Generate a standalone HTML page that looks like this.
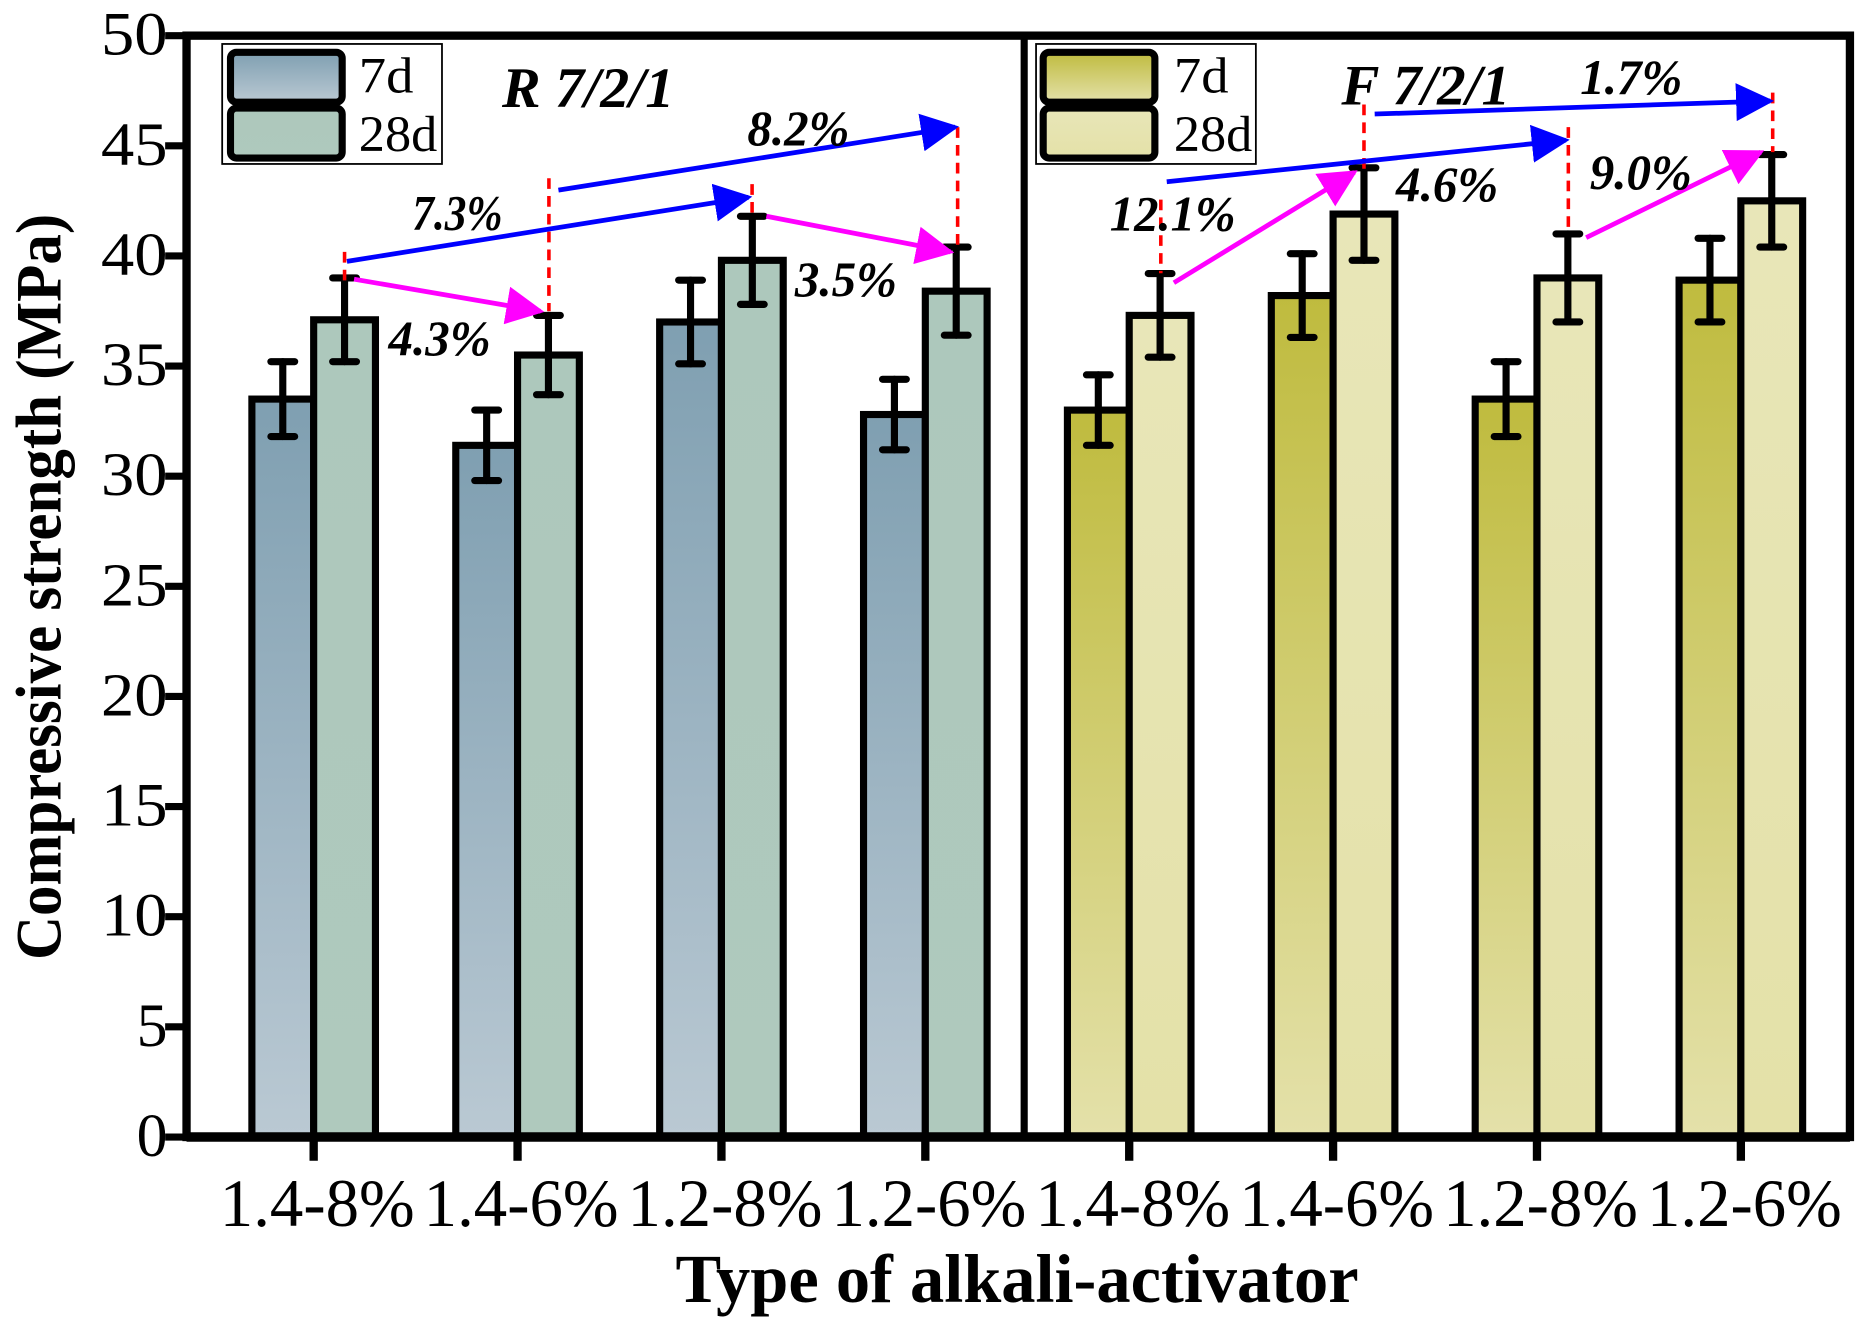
<!DOCTYPE html>
<html><head><meta charset="utf-8"><style>
html,body{margin:0;padding:0;background:#fff;}
svg{display:block;}
text{font-family:"Liberation Serif",serif;}
</style></head><body>
<svg id="chart" width="1863" height="1329" viewBox="0 0 1568 1118.6" preserveAspectRatio="none" xmlns="http://www.w3.org/2000/svg">
<defs>
<linearGradient id="gR7" x1="0" y1="0" x2="0" y2="1"><stop offset="0" stop-color="#7f9fb1"/><stop offset="1" stop-color="#bac9d3"/></linearGradient>
<linearGradient id="gR28" x1="0" y1="0" x2="0" y2="1"><stop offset="0" stop-color="#adc8bc"/><stop offset="1" stop-color="#afc9bd"/></linearGradient>
<linearGradient id="gF7" x1="0" y1="0" x2="0" y2="1"><stop offset="0" stop-color="#bfbb3e"/><stop offset="1" stop-color="#e4e1aa"/></linearGradient>
<linearGradient id="gF28" x1="0" y1="0" x2="0" y2="1"><stop offset="0" stop-color="#e8e6b8"/><stop offset="1" stop-color="#e4e1a8"/></linearGradient>
<marker id="ab" viewBox="0 0 10 10" refX="9" refY="5" markerWidth="8" markerHeight="8" markerUnits="strokeWidth" orient="auto"><path d="M0,0L10,5L0,10z" fill="#0000ff"/></marker>
<marker id="am" viewBox="0 0 10 10" refX="9" refY="5" markerWidth="8" markerHeight="8" markerUnits="strokeWidth" orient="auto"><path d="M0,0L10,5L0,10z" fill="#ff00ff"/></marker>
</defs>
<g id="bars"></g>
<g id="annot">
  <g stroke="#ff0000" stroke-width="3" stroke-dasharray="9,6" fill="none">
    <line x1="290" y1="212" x2="290" y2="238"/><line x1="462" y1="150" x2="462" y2="262"/>
    <line x1="633" y1="155" x2="633" y2="182"/><line x1="806" y1="107" x2="806" y2="210"/>
    <line x1="977" y1="168" x2="977" y2="230"/><line x1="1148" y1="88" x2="1148" y2="142"/>
    <line x1="1320" y1="107" x2="1320" y2="196"/><line x1="1492" y1="78" x2="1492" y2="128"/>
  </g>
  <g stroke="#0000ff" stroke-width="4" fill="none">
    <line x1="292" y1="220" x2="630" y2="166" marker-end="url(#ab)"/>
    <line x1="470" y1="160" x2="804" y2="107" marker-end="url(#ab)"/>
    <line x1="982" y1="153" x2="1318" y2="118" marker-end="url(#ab)"/>
    <line x1="1157" y1="96" x2="1490" y2="85" marker-end="url(#ab)"/>
  </g>
  <g stroke="#ff00ff" stroke-width="4" fill="none">
    <line x1="298" y1="235" x2="455" y2="262" marker-end="url(#am)"/>
    <line x1="645" y1="182" x2="800" y2="212" marker-end="url(#am)"/>
    <line x1="988" y1="238" x2="1140" y2="145" marker-end="url(#am)"/>
    <line x1="1335" y1="200" x2="1482" y2="128" marker-end="url(#am)"/>
  </g>
  <g font-size="42" font-weight="bold" font-style="italic" text-anchor="middle" fill="#000">
    <text x="385" y="193" textLength="76" lengthAdjust="spacingAndGlyphs">7.3%</text>
    <text x="672" y="122" textLength="86" lengthAdjust="spacingAndGlyphs">8.2%</text>
    <text x="370" y="299" textLength="86" lengthAdjust="spacingAndGlyphs">4.3%</text>
    <text x="712" y="249" textLength="86" lengthAdjust="spacingAndGlyphs">3.5%</text>
    <text x="987" y="194" textLength="106" lengthAdjust="spacingAndGlyphs">12.1%</text>
    <text x="1218" y="169" textLength="86" lengthAdjust="spacingAndGlyphs">4.6%</text>
    <text x="1373" y="79" textLength="86" lengthAdjust="spacingAndGlyphs">1.7%</text>
    <text x="1381" y="159" textLength="86" lengthAdjust="spacingAndGlyphs">9.0%</text>
  </g>
  <text x="495" y="90" font-size="48" font-weight="bold" font-style="italic" text-anchor="middle" textLength="145" lengthAdjust="spacingAndGlyphs">R  7/2/1</text>
  <text x="1200" y="88" font-size="48" font-weight="bold" font-style="italic" text-anchor="middle" textLength="142" lengthAdjust="spacingAndGlyphs">F  7/2/1</text>
</g>
<g id="axes"></g>
<g>
  <rect x="187" y="37" width="185" height="101" fill="#fff" stroke="#000" stroke-width="1.5"/>
  <rect x="194" y="44" width="94" height="42" rx="5" fill="url(#gR7)" stroke="#000" stroke-width="6"/>
  <rect x="194" y="91" width="94" height="42" rx="5" fill="url(#gR28)" stroke="#000" stroke-width="6"/>
  <text x="302" y="78" font-size="43" textLength="46" lengthAdjust="spacingAndGlyphs">7d</text><text x="302" y="127" font-size="43" textLength="66" lengthAdjust="spacingAndGlyphs">28d</text>
</g>
<g>
  <rect x="872" y="37" width="185" height="101" fill="#fff" stroke="#000" stroke-width="1.5"/>
  <rect x="878" y="44" width="94" height="42" rx="5" fill="url(#gF7)" stroke="#000" stroke-width="6"/>
  <rect x="878" y="91" width="94" height="42" rx="5" fill="url(#gF28)" stroke="#000" stroke-width="6"/>
  <text x="988" y="78" font-size="43" textLength="46" lengthAdjust="spacingAndGlyphs">7d</text><text x="988" y="127" font-size="43" textLength="66" lengthAdjust="spacingAndGlyphs">28d</text>
</g>
</svg>
<script>
const categories = ["1.4-8%","1.4-6%","1.2-8%","1.2-6%","1.4-8%","1.4-6%","1.2-8%","1.2-6%"];
const values7d = [33.5,31.4,37.0,32.8,33.0,38.2,33.5,38.9];
const err7d = [1.7,1.6,1.9,1.6,1.6,1.9,1.7,1.9];
const values28d = [37.1,35.5,39.8,38.4,37.3,41.9,39.0,42.5];
const err28d = [1.9,1.8,2.0,2.0,1.9,2.1,2.0,2.1];
const yTicks = [0,5,10,15,20,25,30,35,40,45,50];

const NS="http://www.w3.org/2000/svg";
const X0=157,X1=1557,Y0=957,Y1=30,YMAX=50;
const y=v=>Y0-(v/YMAX)*(Y0-Y1);
const xc=i=>264+i*171.6;
const BW=52;
function mk(tag,attrs,parent){const e=document.createElementNS(NS,tag);for(const k in attrs)e.setAttribute(k,attrs[k]);parent.appendChild(e);return e;}
const bars=document.getElementById('bars');
const axes=document.getElementById('axes');
function drawBar(i,val,err,left,fill,name){
  const r=mk('rect',{x:left,y:y(val),width:BW,height:Y0-y(val),fill:fill,stroke:'#000','stroke-width':6},bars);
  
  
  const cx=left+BW/2;
  const g=mk('g',{stroke:'#000','stroke-width':6,'stroke-linecap':'round'},bars);
  
  
  mk('line',{x1:cx,y1:y(val+err),x2:cx,y2:y(val-err)},g);
  mk('line',{x1:cx-10,y1:y(val+err),x2:cx+10,y2:y(val+err)},g);
  mk('line',{x1:cx-10,y1:y(val-err),x2:cx+10,y2:y(val-err)},g);
}
categories.forEach((c,i)=>{
  const f=i<4;
  drawBar(i,values7d[i],err7d[i],xc(i)-BW,f?'url(#gR7)':'url(#gF7)','bar-7d-'+i);
  drawBar(i,values28d[i],err28d[i],xc(i),f?'url(#gR28)':'url(#gF28)','bar-28d-'+i);
  const t=mk('line',{x1:xc(i),y1:Y0,x2:xc(i),y2:Y0+20,stroke:'#000','stroke-width':7},axes);
  
  
  const l=mk('text',{x:xc(i)+3,y:1032,'font-size':57,'text-anchor':'middle',textLength:164,lengthAdjust:'spacingAndGlyphs'},axes);
  l.textContent=c;
  
  
});
const fr=mk('rect',{x:X0,y:Y1,width:X1-X0,height:Y0-Y1,fill:'none',stroke:'#000','stroke-width':7},axes);


const dv=mk('line',{x1:862,y1:Y1,x2:862,y2:Y0,stroke:'#000','stroke-width':6},axes);


mk('line',{x1:X0,y1:Y0,x2:X1,y2:Y0,stroke:'#000','stroke-width':8},axes);
yTicks.forEach(v=>{
  const t=mk('line',{x1:X0-18,y1:y(v),x2:X0,y2:y(v),stroke:'#000','stroke-width':6},axes);
  
  
  const attrs={x:X0-16,y:y(v)+16,'font-size':52,'text-anchor':'end'};
  if(String(v).length>1){attrs.textLength=56;attrs.lengthAdjust='spacingAndGlyphs';}
  else{attrs.textLength=26;attrs.lengthAdjust='spacingAndGlyphs';}
  const l=mk('text',attrs,axes);
  l.textContent=v;
  
  
});
const xt=mk('text',{x:856,y:1096,'font-size':58,'font-weight':'bold','text-anchor':'middle',textLength:575,lengthAdjust:'spacingAndGlyphs'},axes);
xt.textContent='Type of alkali-activator';


const yt=mk('text',{x:0,y:0,'font-size':54,'font-weight':'bold','text-anchor':'middle',textLength:628,lengthAdjust:'spacingAndGlyphs',transform:'translate(51,494) rotate(-90)'},axes);
yt.textContent='Compressive strength (MPa)';


</script>
</body></html>
